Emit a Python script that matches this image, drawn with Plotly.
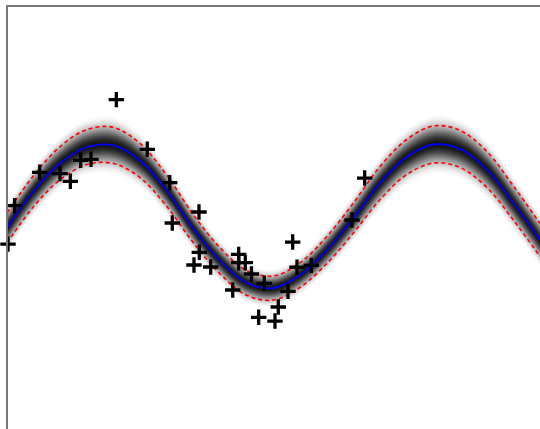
import numpy as np
import plotly.graph_objects as go

# ---- data ----
mean_x = [0.0, 0.5, 1.0, 1.5, 2.0, 2.5, 3.0, 3.5, 4.0, 4.5, 5.0,
          5.5, 6.0, 6.5, 7.0, 7.5, 8.0, 8.5, 9.0, 9.5, 10.0]
mean_y = [-0.175, 0.343, 0.734, 0.958, 0.980, 0.766, 0.343, -0.189, -0.636, -0.944, -1.014,
          -0.832, -0.483, -0.035, 0.455, 0.818, 0.993, 0.931, 0.646, 0.175, -0.343]
std_y = [0.210, 0.217, 0.231, 0.245, 0.252, 0.238, 0.217, 0.196, 0.182, 0.172, 0.168,
         0.172, 0.189, 0.210, 0.231, 0.245, 0.259, 0.259, 0.252, 0.238, 0.231]

obs_x = [0.019, 0.144, 0.614, 0.994, 1.188, 1.383, 1.576, 2.051, 2.632, 3.053,
         3.101, 3.602, 3.608, 3.508, 3.822, 4.347, 4.347, 4.471, 4.587, 4.235,
         4.722, 4.827, 5.360, 5.441, 5.709, 5.272, 5.090, 5.028, 6.711, 6.473]
obs_y = [-0.399, 0.137, 0.604, 0.585, 0.478, 0.772, 0.786, 1.620, 0.926, 0.459,
         -0.105, 0.049, -0.515, -0.692, -0.720, -0.543, -0.660, -0.660, -0.818, -1.042,
         -1.424, -0.948, -0.371, -0.724, -0.697, -1.060, -1.280, -1.476, 0.524, -0.063]

mx = np.array(mean_x)
my = np.array(mean_y)
sd = np.array(std_y)

fig = go.Figure()

# gradient band (density shading)
rmax, sig = 1.6, 0.68
dmin = np.exp(-rmax ** 2 / (2 * sig ** 2))
levels = np.linspace(rmax, 0.03, 34)
for r in levels:
    d = (np.exp(-r ** 2 / (2 * sig ** 2)) - dmin) / (1 - dmin)
    g = int(round(255 * (1 - 0.92 * d)))
    fig.add_trace(go.Scatter(x=mx, y=my - r * sd, mode="lines",
                             line=dict(width=0, shape="spline"),
                             hoverinfo="skip", showlegend=False))
    fig.add_trace(go.Scatter(x=mx, y=my + r * sd, mode="lines",
                             line=dict(width=0, shape="spline"),
                             fill="tonexty", fillcolor=f"rgb({g},{g},{g})",
                             hoverinfo="skip", showlegend=False))

# dashed bounds
for sign in (1, -1):
    fig.add_trace(go.Scatter(x=mx, y=my + sign * sd, mode="lines",
                             line=dict(color="red", width=1.6, dash="4px,3px", shape="spline"),
                             showlegend=False))

# mean line
fig.add_trace(go.Scatter(x=mx, y=my, mode="lines",
                         line=dict(color="blue", width=1.8, shape="spline"),
                         showlegend=False))

# observations
fig.add_trace(go.Scatter(x=obs_x, y=obs_y, mode="markers", cliponaxis=False,
                         marker=dict(symbol="cross-thin", size=11,
                                     line=dict(color="black", width=3.3)),
                         showlegend=False))

L, T = 8, 7
fig.update_layout(
    width=540, height=429,
    margin=dict(l=L, r=0, t=T, b=0),
    paper_bgcolor="white", plot_bgcolor="white",
    xaxis=dict(range=[(L - 7) / 53.3, 10.0], showgrid=False, zeroline=False,
               showticklabels=False, ticks="", showline=True, side="top",
               linecolor="#777777", linewidth=2),
    yaxis=dict(range=[-2.986, (215.5 - T) / 71.5], showgrid=False, zeroline=False,
               showticklabels=False, ticks="", showline=True,
               linecolor="#777777", linewidth=2),
)

fig.write_html("out.html", config={"displayModeBar": False},
               post_script="document.body.style.margin='0';document.body.style.overflow='hidden';")
